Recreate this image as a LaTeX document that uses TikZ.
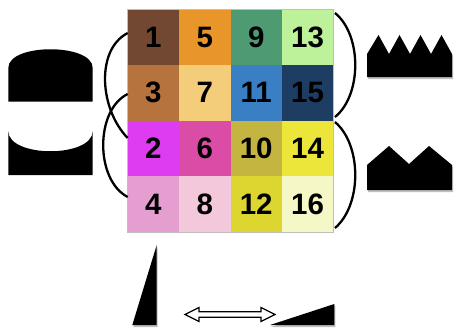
\documentclass[tikz,border=0pt]{standalone}
\usepackage{fontspec}
\newfontfamily\numfont{Liberation Sans}
\begin{document}
\begin{tikzpicture}[x=1pt,y=-1pt,
  cell/.style={draw=none,minimum width=51.4pt,minimum height=55.6pt,inner sep=0pt,
    font=\numfont\bfseries\fontsize{29.5}{29.5}\selectfont,text=black},
  arc/.style={line width=2.3pt,black},
  blk/.style={fill=black},
  shd/.style={fill=black,fill opacity=0.25,xshift=1pt,yshift=-2pt}]
\useasboundingbox (0,0) rectangle (454,329);
\definecolor{k1}{HTML}{734832}\definecolor{k5}{HTML}{E8962A}\definecolor{k9}{HTML}{4E9A72}\definecolor{k13}{HTML}{BEF29A}
\definecolor{k3}{HTML}{B6733D}\definecolor{k7}{HTML}{F3CD7A}\definecolor{k11}{HTML}{3A7FC4}\definecolor{k15}{HTML}{1D3D63}
\definecolor{k2}{HTML}{DD3CF0}\definecolor{k6}{HTML}{DB4CA6}\definecolor{k10}{HTML}{C4B440}\definecolor{k14}{HTML}{ECE63A}
\definecolor{k4}{HTML}{E59ED0}\definecolor{k8}{HTML}{F2C8DA}\definecolor{k12}{HTML}{DDD630}\definecolor{k16}{HTML}{F6F7C6}
% grid
\foreach \n/\c/\r in {1/0/0,5/1/0,9/2/0,13/3/0,3/0/1,7/1/1,11/2/1,15/3/1,2/0/2,6/1/2,10/2/2,14/3/2,4/0/3,8/1/3,12/2/3,16/3/3}{
  \node[cell,fill=k\n] (n\n) at ({153.4+51.4*\c},{37.1+55.6*\r}) {\n};
}
\draw[gray!50,line width=0.8pt] (n1.north west) rectangle (n16.south east);
% left arcs
\coordinate (la1) at (127.7,33);
\coordinate (la2) at (127.7,138);
\coordinate (la3) at (127.7,94);
\coordinate (la4) at (127.7,197);
\draw[arc] (la1) .. controls (95,50) and (100,110) .. (la2);
\draw[arc] (la3) .. controls (95,110) and (95,180) .. (la4);
% right arcs
\coordinate (ra1) at (335,13);
\coordinate (ra2) at (335,117);
\coordinate (ra3) at (335,122);
\coordinate (ra4) at (335,228);
\draw[arc] (ra1) .. controls (362,35) and (362,95) .. (ra2);
\draw[arc] (ra3) .. controls (362,145) and (362,205) .. (ra4);
% left shapes
\fill[blk] (8.3,101.7) -- (8.3,68) .. controls (8.3,43) and (92.7,43) .. (92.7,68) -- (92.7,101.7) -- cycle;
\fill[blk] (8.3,131) .. controls (8.3,158) and (92.7,158) .. (92.7,131) -- (92.7,175) -- (8.3,175) -- cycle;
% right shapes
\fill[shd] (367,77) -- (367,54) -- (378.5,35) -- (389,54) -- (399.5,35) -- (410,54) -- (420.5,35) -- (431,54) -- (441.5,35) -- (452,54) -- (452,77) -- cycle;
\fill[blk] (367,77) -- (367,54) -- (378.5,35) -- (389,54) -- (399.5,35) -- (410,54) -- (420.5,35) -- (431,54) -- (441.5,35) -- (452,54) -- (452,77) -- cycle;
\fill[shd] (367,190) -- (367,165) -- (389,146) -- (409,164) -- (429,146) -- (452,165) -- (452,190) -- cycle;
\fill[blk] (367,190) -- (367,165) -- (389,146) -- (409,164) -- (429,146) -- (452,165) -- (452,190) -- cycle;
% bottom shapes
\fill[shd] (132.3,325) -- (156.7,245) -- (156.7,325) -- cycle;
\fill[blk] (132.3,325) -- (156.7,245) -- (156.7,325) -- cycle;
\fill[shd] (270,325) -- (334.3,304) -- (334.3,325) -- cycle;
\fill[blk] (270,325) -- (334.3,304) -- (334.3,325) -- cycle;
% double arrow
\draw[fill=white,line width=1.2pt,line join=miter] (185,314.5) -- (199,307.5) -- (199,311.7) -- (261,311.7) -- (261,307.5) -- (275,314.5) -- (261,321.5) -- (261,317.3) -- (199,317.3) -- (199,321.5) -- cycle;
\end{tikzpicture}
\end{document}
